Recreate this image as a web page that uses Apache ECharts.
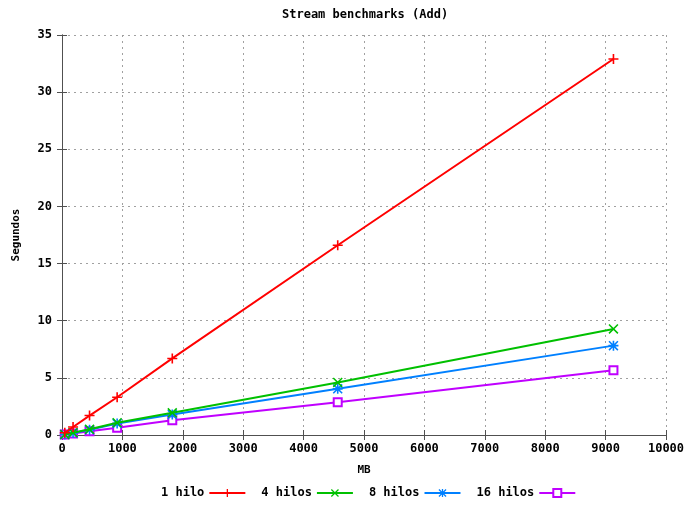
<!DOCTYPE html>
<html>
<head>
<meta charset="utf-8">
<script src="https://cdn.jsdelivr.net/npm/echarts@6/dist/echarts.min.js"></script>
<style>
  html, body { margin: 0; padding: 0; background: #fff; }
  #chart { width: 687px; height: 505px; }
</style>
</head>
<body>
<div id="chart"></div>
<script>
// Array sizes (MB) and elapsed time (s) for the Stream "Add" kernel
const sizesMB   = [46, 183, 456, 913, 1826, 4565, 9130];
const hilo1     = [0.2, 0.7, 1.7, 3.3, 6.7, 16.6, 32.9];
const hilos4    = [0.05, 0.2, 0.5, 1.07, 1.94, 4.6, 9.28];
const hilos8    = [0.05, 0.18, 0.45, 1.0, 1.79, 4.04, 7.82];
const hilos16   = [0.04, 0.13, 0.33, 0.63, 1.29, 2.87, 5.66];
const seriesNames = ['1 hilo', '4 hilos', '8 hilos', '16 hilos'];
const seriesColors = ['#ff0000', '#00c000', '#0080ff', '#c000ff'];

const FONT = '"DejaVu Sans Mono", "Liberation Mono", monospace';

// gnuplot-like point glyphs
const PLUS = 'path://M4.2,0H5.8V10H4.2Z M0,4.2H10V5.8H0Z';
const CROSS = 'path://M0,1.1L1.1,0L10,8.9L8.9,10Z M8.9,0L10,1.1L1.1,10L0,8.9Z';
const STAR = 'path://M4.2,0H5.8V10H4.2Z M0,4.2H10V5.8H0Z M0,1.1L1.1,0L10,8.9L8.9,10Z M8.9,0L10,1.1L1.1,10L0,8.9Z';

function pairs(ys) { return sizesMB.map((x, i) => [x, ys[i]]); }

const symbols = [PLUS, CROSS, STAR, 'emptyRect'];
const sizes = [10, 10, 10, 8];
const values = [hilo1, hilos4, hilos8, hilos16];

const chart = echarts.init(document.getElementById('chart'), null, { renderer: 'canvas' });

const axisCommon = {
  axisLine: { show: true, lineStyle: { color: '#505050', width: 1 } },
  axisTick: { show: true, inside: true, length: 5, lineStyle: { color: '#505050' } },
};
const plain = v => String(v);

chart.setOption({
  animation: false,
  backgroundColor: '#ffffff',
  title: {
    text: 'Stream benchmarks (Add)',
    left: 277,
    top: 4,
    textStyle: { fontFamily: FONT, fontSize: 12, fontWeight: 'bold', color: '#000' }
  },
  legend: {
    bottom: 1,
    left: 156,
    align: 'right',
    itemWidth: 36,
    itemHeight: 10,
    itemGap: 15,
    data: seriesNames,
    textStyle: { fontFamily: FONT, fontSize: 12, fontWeight: 'bold', color: '#000' }
  },
  grid: { left: 62, right: 21, top: 35, bottom: 70, outerBoundsMode: 'none' },
  xAxis: [{
    type: 'value', min: 0, max: 10000, interval: 1000,
    name: 'MB', nameLocation: 'middle', nameGap: 30,
    nameTextStyle: { fontFamily: FONT, fontSize: 11, fontWeight: 'bold', color: '#000' },
    ...axisCommon,
    axisLabel: { fontFamily: FONT, fontSize: 12, fontWeight: 'bold', color: '#000', margin: 8, formatter: plain },
    splitLine: { show: true, lineStyle: { color: '#a0a0a0', type: [2, 4], width: 1 } }
  }, {
    type: 'value', position: 'top', min: 0, max: 10000, interval: 1000,
    ...axisCommon, axisLabel: { show: false }, splitLine: { show: false }
  }],
  yAxis: [{
    type: 'value', min: 0, max: 35, interval: 5,
    name: 'Segundos', nameLocation: 'middle', nameGap: 40, nameRotate: 90,
    nameTextStyle: { fontFamily: FONT, fontSize: 11, fontWeight: 'bold', color: '#000' },
    ...axisCommon,
    axisLabel: { fontFamily: FONT, fontSize: 12, fontWeight: 'bold', color: '#000', margin: 10, formatter: plain },
    splitLine: { show: true, lineStyle: { color: '#a0a0a0', type: [2, 4], width: 1 } }
  }, {
    type: 'value', position: 'right', min: 0, max: 35, interval: 5,
    ...axisCommon, axisLabel: { show: false }, splitLine: { show: false }
  }],
  series: seriesNames.map((name, i) => ({
    name,
    type: 'line',
    data: pairs(values[i]),
    symbol: symbols[i],
    symbolSize: sizes[i],
    showAllSymbol: true,
    color: seriesColors[i],
    lineStyle: { width: 2, color: seriesColors[i] },
    itemStyle: i === 3
      ? { color: seriesColors[i], borderColor: seriesColors[i], borderWidth: 1.5 }
      : { color: seriesColors[i], borderWidth: 0 },
    z: 10 - i
  }))
});
</script>
</body>
</html>
